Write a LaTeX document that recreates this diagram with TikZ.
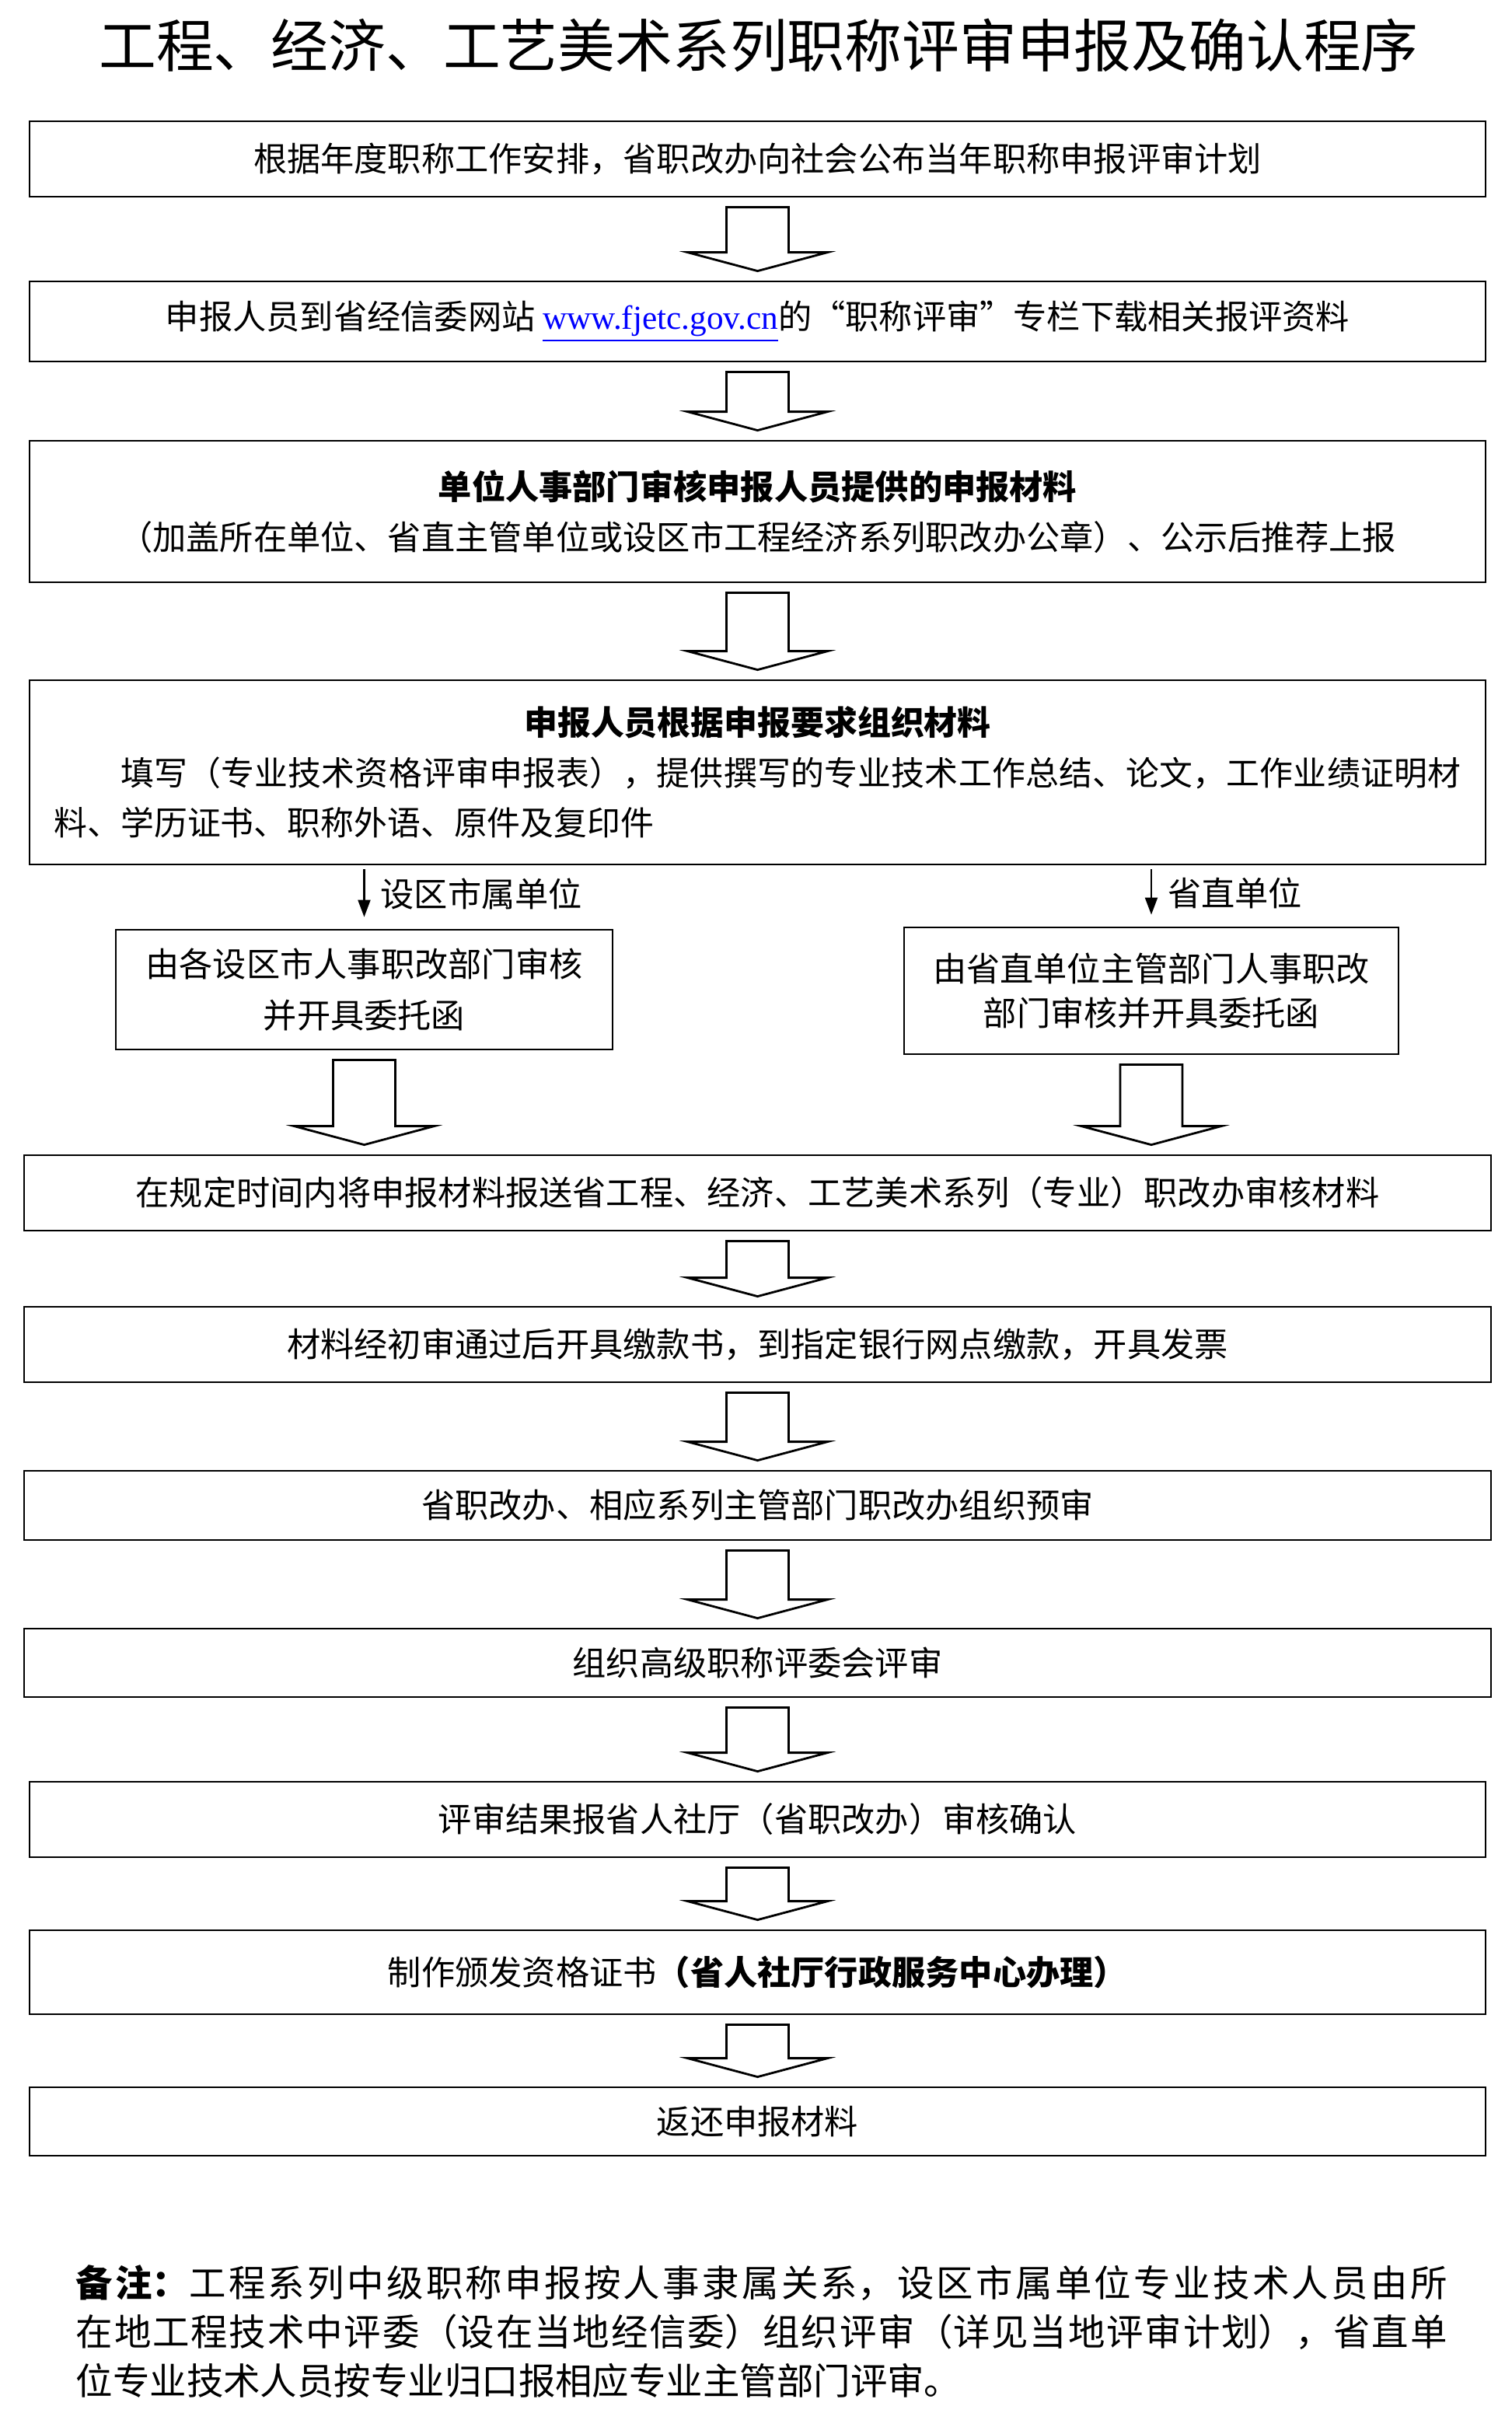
\documentclass[tikz,border=0pt]{standalone}
\usepackage{fontspec}
\setmainfont{Noto Sans CJK SC}
\newfontfamily\urlfont{Liberation Serif}
\usetikzlibrary{arrows.meta,calc}
\XeTeXlinebreaklocale "zh"
\XeTeXlinebreakskip=0pt plus 2pt

\begin{document}
\begin{tikzpicture}[
    stepbox/.style={rectangle, draw=black, line width=0.8pt, inner sep=0pt, minimum width=18.73cm, align=center, font=\fontsize{12.3}{18.6}\selectfont},
    widebox/.style={stepbox, minimum width=18.87cm},
    sidebox/.style={stepbox, minimum width=6.38cm},
    fatarrow/.style={line width=0.8pt, line join=miter, to path={let \p1=(\tikztostart.south), \p2=(\tikztotarget.north) in
        (\x1-0.4cm,\y1-0.12cm) -- (\x1+0.4cm,\y1-0.12cm) -- (\x1+0.4cm,\y2+0.36cm) -- (\x1+0.9cm,\y2+0.36cm)
        -- (\x1,\y2+0.12cm) -- (\x1-0.9cm,\y2+0.36cm) -- (\x1-0.4cm,\y2+0.36cm) -- cycle}},
    thinarrow/.style={line width=0.6pt, -{Triangle[length=0.22cm,width=0.16cm]}, shorten <=0.05cm, shorten >=0.15cm},
    branchlabel/.style={inner sep=0pt, font=\fontsize{12.3}{14}\selectfont}
]
\useasboundingbox (0,0) rectangle (19.45,-31.22);

% Title
\node[font=\fontsize{21}{24}\selectfont] (title) at (9.76,-0.58) {工程、经济、工艺美术系列职称评审申报及确认程序};

% Main steps
\node[stepbox, minimum height=0.97cm] (plan) at (9.745,-2.045) {根据年度职称工作安排，省职改办向社会公布当年职称申报评审计划};
\node[stepbox, minimum height=1.03cm] (download) at (9.745,-4.135) {申报人员到省经信委网站 \textcolor{blue}{\underline{\urlfont www.fjetc.gov.cn}}的“职称评审”专栏下载相关报评资料};
\node[stepbox, minimum height=1.82cm] (unitcheck) at (9.745,-6.58) {{\bfseries 单位人事部门审核申报人员提供的申报材料}\\（加盖所在单位、省直主管单位或设区市工程经济系列职改办公章）、公示后推荐上报};
\node[stepbox, minimum height=2.37cm, text width=18.1cm, align=justify, font=\fontsize{12.2}{18.4}\selectfont] (prepare) at (9.745,-9.935) {\centerline{\bfseries 申报人员根据申报要求组织材料}\par\noindent\hspace*{2em}填写（专业技术资格评审申报表），提供撰写的专业技术工作总结、论文，工作业绩证明材\linebreak 料、学历证书、职称外语、原件及复印件};

% Branches
\node[sidebox, minimum width=6.39cm, minimum height=1.54cm] (cityreview) at (4.685,-12.73) {由各设区市人事职改部门审核\\并开具委托函};
\node[sidebox, minimum width=6.36cm, minimum height=1.63cm, font=\fontsize{12.3}{16.4}\selectfont] (provreview) at (14.81,-12.745) {由省直单位主管部门人事职改\\部门审核并开具委托函};
\draw[thinarrow] (prepare.south -| cityreview.north) -- node[branchlabel, pos=0.45, right=0.2cm] (citylabel) {设区市属单位} (cityreview.north);
\draw[thinarrow] (prepare.south -| provreview.north) -- node[branchlabel, pos=0.45, right=0.2cm] (provlabel) {省直单位} (provreview.north);

\node[widebox, minimum height=0.97cm] (submit) at (9.745,-15.345) {在规定时间内将申报材料报送省工程、经济、工艺美术系列（专业）职改办审核材料};
\node[widebox, minimum height=0.97cm] (payment) at (9.745,-17.295) {材料经初审通过后开具缴款书，到指定银行网点缴款，开具发票};
\node[widebox, minimum height=0.89cm] (precheck) at (9.745,-19.365) {省职改办、相应系列主管部门职改办组织预审};
\node[widebox, minimum height=0.88cm] (committee) at (9.745,-21.39) {组织高级职称评委会评审};
\node[stepbox, minimum height=0.97cm] (confirm) at (9.745,-23.405) {评审结果报省人社厅（省职改办）审核确认};
\node[stepbox, minimum height=1.08cm] (certificate) at (9.745,-25.37) {制作颁发资格证书{\bfseries（省人社厅行政服务中心办理）}};
\node[stepbox, minimum height=0.88cm] (giveback) at (9.745,-27.29) {返还申报材料};

% Hollow arrows
\draw[fatarrow] (plan) to (download);
\draw[fatarrow] (download) to (unitcheck);
\draw[fatarrow] (unitcheck) to (prepare);
\draw[fatarrow] (cityreview) to (submit);
\draw[fatarrow] (provreview) to (submit);
\draw[fatarrow] (submit) to (payment);
\draw[fatarrow] (payment) to (precheck);
\draw[fatarrow] (precheck) to (committee);
\draw[fatarrow] (committee) to (confirm);
\draw[fatarrow] (confirm) to (certificate);
\draw[fatarrow] (certificate) to (giveback);

% Note
\node[anchor=north west, inner sep=0pt, text width=17.64cm, align=justify, font=\fontsize{13.5}{17.9}\selectfont] (note) at (0.97,-29.13) {{\bfseries 备注：}工程系列中级职称申报按人事隶属关系，设区市属单位专业技术人员由所\linebreak 在地工程技术中评委（设在当地经信委）组织评审（详见当地评审计划），省直单\linebreak 位专业技术人员按专业归口报相应专业主管部门评审。};

\end{tikzpicture}
\end{document}
